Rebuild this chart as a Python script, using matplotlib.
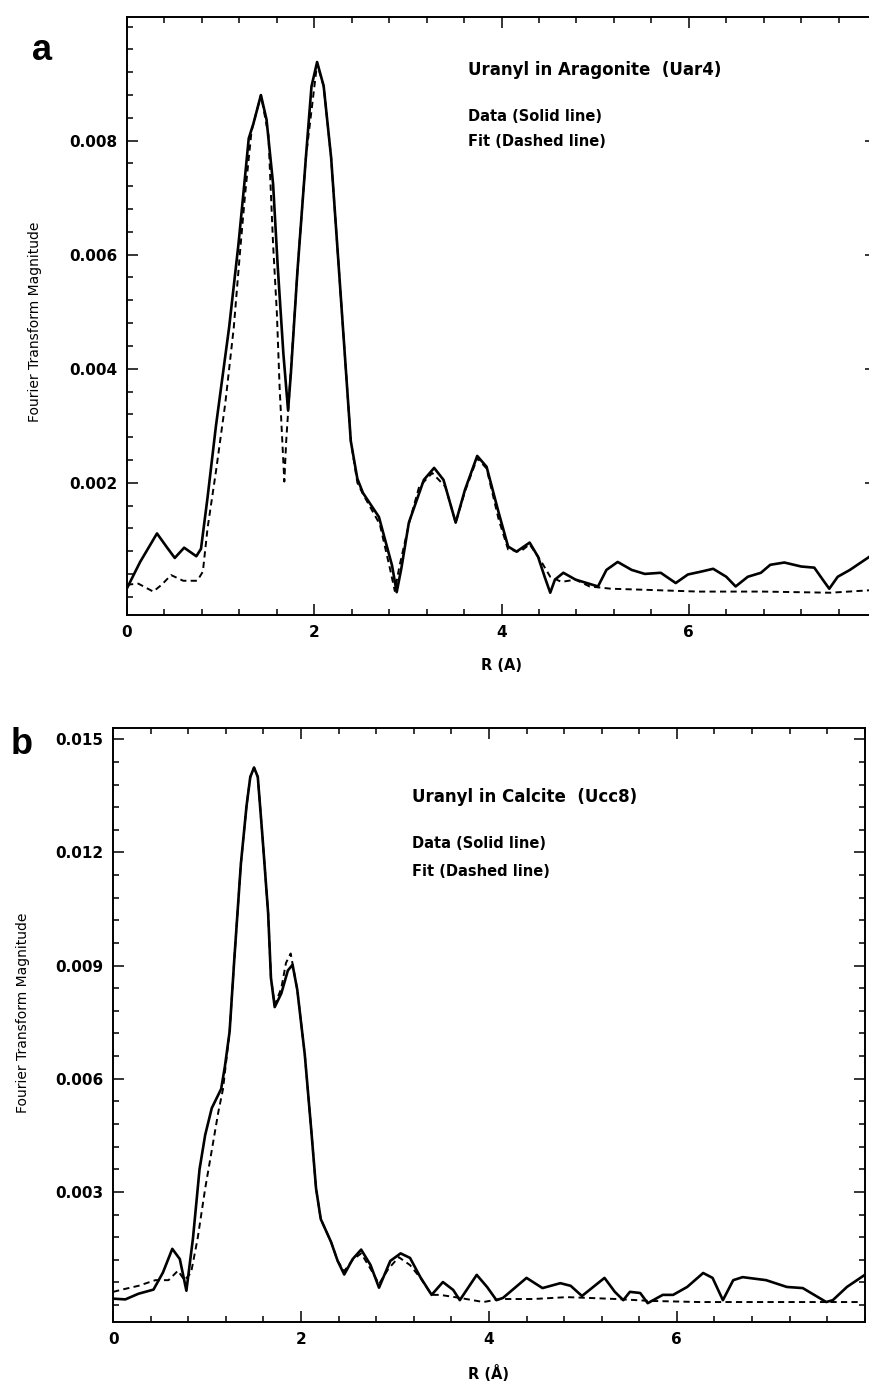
import numpy as np
import matplotlib
matplotlib.use("Agg")
import matplotlib.pyplot as plt
from matplotlib.ticker import MultipleLocator

# panel a: uranyl in aragonite (Uar4), values in units of 1e-3
a_r_data = [0.00, 0.14, 0.32, 0.42, 0.51, 0.61, 0.74, 0.79, 0.86, 0.95,
            1.09, 1.19, 1.30, 1.35, 1.43, 1.49, 1.56, 1.61, 1.67, 1.72,
            1.75, 1.82, 1.91, 1.97, 2.03, 2.10, 2.18, 2.25, 2.32, 2.39, 2.46,
            2.52, 2.69, 2.83, 2.88, 2.93, 3.01,
            3.17, 3.28, 3.38, 3.51, 3.61, 3.74, 3.84, 3.97, 4.07, 4.16,
            4.30, 4.39, 4.46, 4.52, 4.57, 4.66, 4.79, 4.91, 5.03, 5.12,
            5.24, 5.39, 5.53, 5.70, 5.86, 5.99, 6.13, 6.26, 6.40, 6.50,
            6.63, 6.77, 6.87, 7.02, 7.20, 7.34, 7.43, 7.50, 7.59, 7.72,
            8.00]
a_data = [0.15, 0.61, 1.11, 0.88, 0.68, 0.86, 0.71, 0.84, 1.74, 3.00,
          4.72, 6.18, 8.04, 8.30, 8.80, 8.37, 7.24, 5.78, 4.26, 3.27,
          3.92, 5.71, 7.70, 8.95, 9.38, 8.96, 7.70, 6.05, 4.39, 2.73, 2.07,
          1.82, 1.40, 0.55, 0.08, 0.50, 1.30,
          2.05, 2.26, 2.05, 1.30, 1.88, 2.47, 2.28, 1.47, 0.88, 0.79,
          0.95, 0.70, 0.35, 0.07, 0.30, 0.42, 0.30, 0.24, 0.18, 0.47,
          0.61, 0.47, 0.40, 0.42, 0.24, 0.39, 0.44, 0.49, 0.35, 0.18,
          0.35, 0.42, 0.56, 0.60, 0.53, 0.51, 0.30, 0.14, 0.35, 0.47,
          0.78]
a_r_fit = [0.00, 0.12, 0.28, 0.37, 0.47, 0.60, 0.75, 0.81, 0.86, 0.95,
           1.05, 1.14, 1.21, 1.26, 1.33, 1.43, 1.51, 1.56, 1.60, 1.63,
           1.68, 1.70, 1.74, 1.82, 1.91, 2.03, 2.10, 2.18, 2.25, 2.32,
           2.39, 2.46, 2.52, 2.70, 2.81, 2.86, 2.91, 3.02, 3.12, 3.26,
           3.40, 3.51, 3.61, 3.74, 3.84, 3.97, 4.07, 4.20, 4.30, 4.43,
           4.52, 4.64, 4.79, 4.94, 5.17, 5.56, 6.10, 6.80, 7.51, 8.00]
a_fit = [0.21, 0.23, 0.09, 0.21, 0.38, 0.28, 0.28, 0.44, 1.20, 2.20,
         3.40, 4.72, 6.11, 7.04, 8.17, 8.80, 8.10, 6.18, 4.99, 3.66,
         2.02, 2.73, 3.73, 5.71, 7.70, 9.35, 8.96, 7.70, 6.05, 4.39,
         2.73, 2.00, 1.80, 1.27, 0.48, 0.10, 0.54, 1.34, 1.93, 2.17,
         1.93, 1.30, 1.85, 2.43, 2.25, 1.35, 0.83, 0.79, 0.92, 0.60,
         0.35, 0.26, 0.30, 0.18, 0.14, 0.12, 0.09, 0.09, 0.07, 0.12]

# panel b: uranyl in calcite (Ucc8), values in units of 1e-3
b_r_data = [0.00, 0.13, 0.27, 0.43, 0.53, 0.63, 0.71, 0.78, 0.85, 0.92,
            0.98, 1.05, 1.15, 1.19, 1.24, 1.29, 1.36, 1.42, 1.46, 1.50,
            1.54, 1.59, 1.65, 1.68, 1.72, 1.79, 1.86, 1.91, 1.96, 2.04,
            2.11, 2.16, 2.21, 2.32, 2.39, 2.46, 2.55, 2.64, 2.74, 2.83,
            2.95, 3.06, 3.16, 3.27, 3.39, 3.51, 3.62, 3.69, 3.87, 3.98,
            4.08, 4.15, 4.40, 4.57, 4.76, 4.87, 4.99, 5.23, 5.34, 5.43,
            5.50, 5.61, 5.69, 5.85, 5.96, 6.11, 6.28, 6.38, 6.49, 6.60,
            6.70, 6.95, 7.17, 7.34, 7.59, 7.66, 7.81, 8.00]
b_data = [0.17, 0.15, 0.30, 0.41, 0.86, 1.49, 1.22, 0.38, 1.77, 3.60,
          4.51, 5.22, 5.73, 6.33, 7.25, 9.17, 11.70, 13.23, 14.00, 14.25,
          14.00, 12.41, 10.39, 8.67, 7.90, 8.26, 8.87, 9.02, 8.36, 6.64,
          4.61, 3.09, 2.28, 1.67, 1.17, 0.81, 1.22, 1.47, 1.06, 0.46,
          1.17, 1.37, 1.25, 0.74, 0.27, 0.61, 0.40, 0.13, 0.80, 0.48,
          0.13, 0.19, 0.72, 0.45, 0.58, 0.51, 0.24, 0.72, 0.35, 0.13,
          0.35, 0.32, 0.05, 0.27, 0.27, 0.48, 0.85, 0.72, 0.13, 0.66,
          0.74, 0.66, 0.48, 0.45, 0.08, 0.13, 0.48, 0.80]
b_r_fit = [0.00, 0.13, 0.27, 0.45, 0.59, 0.69, 0.76, 0.83, 0.90, 0.98,
           1.05, 1.12, 1.17, 1.24, 1.29, 1.36, 1.42, 1.46, 1.50, 1.54,
           1.59, 1.65, 1.68, 1.72, 1.79, 1.84, 1.89, 1.96, 2.04, 2.11,
           2.16, 2.21, 2.32, 2.39, 2.46, 2.55, 2.64, 2.74, 2.83, 2.93,
           3.04, 3.16, 3.27, 3.39, 3.48, 3.69, 3.94, 4.12, 4.47, 4.83,
           5.05, 5.36, 5.71, 6.24, 6.95, 7.66, 7.97]
b_fit = [0.35, 0.43, 0.51, 0.66, 0.66, 0.91, 0.66, 0.86, 1.77, 3.09,
         4.10, 5.12, 5.73, 7.25, 9.17, 11.70, 13.23, 14.00, 14.25, 14.00,
         12.41, 10.39, 8.67, 7.95, 8.40, 9.07, 9.32, 8.36, 6.64, 4.61,
         3.09, 2.28, 1.67, 1.17, 0.90, 1.20, 1.37, 0.96, 0.56, 0.96,
         1.27, 1.06, 0.72, 0.27, 0.27, 0.19, 0.08, 0.16, 0.16, 0.21,
         0.19, 0.16, 0.11, 0.08, 0.08, 0.08, 0.08]

a_yticks = [0.002, 0.004, 0.006, 0.008]
a_yticklabels = ["0.002", "0.004", "0.006", "0.008"]
b_yticks = [0.003, 0.006, 0.009, 0.012, 0.015]
b_yticklabels = ["0.003", "0.006", "0.009", "0.012", "0.015"]
xticks = [0, 2, 4, 6]
xticklabels = ["0", "2", "4", "6"]


def draw_panel(ax, r_data, data, r_fit, fit, title, xlabel, yticks, ylabels, yminor):
    ax.plot(r_data, np.array(data) * 1e-3, color="black", lw=1.9,
            solid_joinstyle="round")
    ax.plot(r_fit, np.array(fit) * 1e-3, color="black", lw=1.4, dashes=(3.2, 2.2))
    ax.set_xticks(xticks)
    ax.set_xticklabels(xticklabels)
    ax.set_yticks(yticks)
    ax.set_yticklabels(ylabels)
    ax.xaxis.set_minor_locator(MultipleLocator(0.4))
    ax.yaxis.set_minor_locator(MultipleLocator(yminor))
    ax.tick_params(which="both", direction="in", top=True, right=True, width=1.1)
    ax.tick_params(which="major", length=8, pad=7, labelsize=11)
    ax.tick_params(which="minor", length=4)
    for lab in ax.get_xticklabels() + ax.get_yticklabels():
        lab.set_fontweight("bold")
    for sp in ax.spines.values():
        sp.set_linewidth(1.4)
    ax.set_xlabel(xlabel, fontsize=10.5, fontweight="bold", labelpad=13)
    ax.set_ylabel("Fourier Transform Magnitude", fontsize=10)
    ax.text(title[1], title[2], title[0], transform=ax.transAxes,
            fontsize=12, fontweight="bold", va="center")
    ax.text(title[1], title[3], "Data (Solid line)", transform=ax.transAxes,
            fontsize=10.5, fontweight="bold", va="center")
    ax.text(title[1], title[4], "Fit (Dashed line)", transform=ax.transAxes,
            fontsize=10.5, fontweight="bold", va="center")


fig = plt.figure(figsize=(8.7, 13.81), dpi=100)

# top panel runs a little past the right edge of the image, as in the scan
ax_a = fig.add_axes([0.146, 0.5547, 0.861, 0.433])
ax_a.set_xlim(0, 8)
ax_a.set_ylim(-0.00032, 0.01017)
draw_panel(ax_a, a_r_data, a_data, a_r_fit, a_fit,
           ("Uranyl in Aragonite  (Uar4)", 0.455, 0.911, 0.833, 0.791),
           "R (A)", a_yticks, a_yticklabels, 0.0004)
ax_a.yaxis.set_label_coords(-0.113, 0.49)

ax_b = fig.add_axes([0.130, 0.0427, 0.864, 0.4302])
ax_b.set_xlim(0, 8)
ax_b.set_ylim(-0.00045, 0.0153)
draw_panel(ax_b, b_r_data, b_data, b_r_fit, b_fit,
           ("Uranyl in Calcite  (Ucc8)", 0.398, 0.884, 0.805, 0.758),
           "R (Å)", b_yticks, b_yticklabels, 0.0006)
ax_b.yaxis.set_label_coords(-0.11, 0.52)

fig.text(42 / 870, 1 - 50 / 1381, "a", fontsize=26, fontweight="bold",
         family="Liberation Sans", ha="center", va="center")
fig.text(22 / 870, 1 - 745 / 1381, "b", fontsize=26, fontweight="bold",
         family="Liberation Sans", ha="center", va="center")

fig.savefig("out.png", dpi=100)
